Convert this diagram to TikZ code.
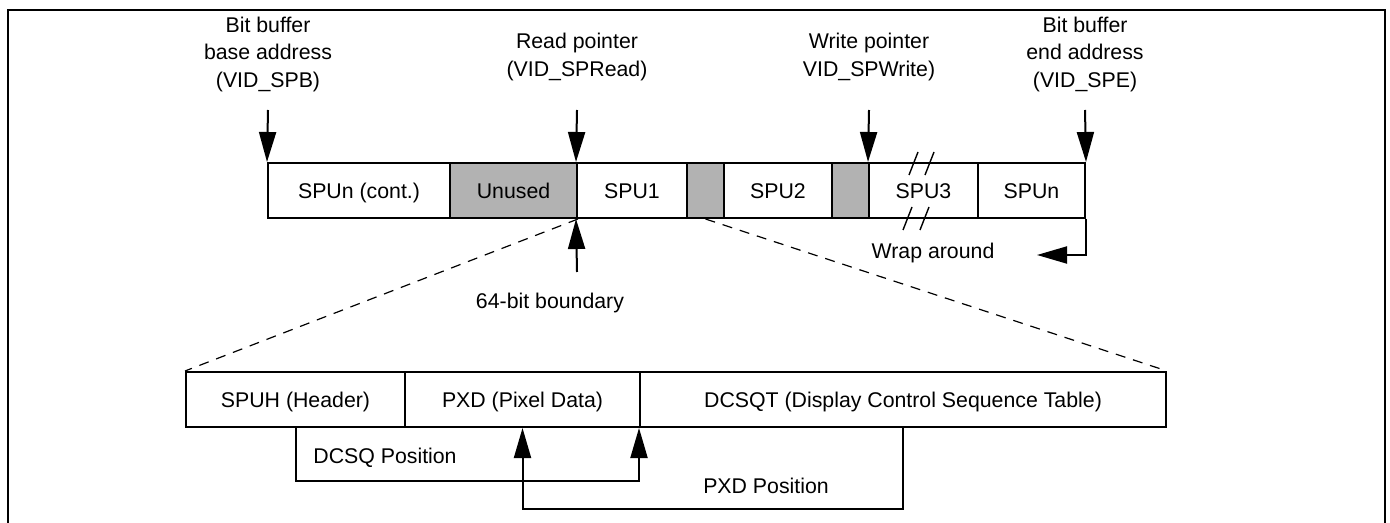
\documentclass[tikz,border=0pt]{standalone}
\usepackage{fontspec}
\setmainfont{Liberation Sans}
\usepackage{tkz-euclide}
\usetikzlibrary{arrows.meta,fit}

\begin{document}
\begin{tikzpicture}[x=.5pt,y=-.5pt,line width=1pt,
	every node/.style={font=\fontsize{10.65pt}{13.75pt}\selectfont},
	every label/.style={text height=7.6pt,text depth=0pt},
	cell/.style={draw,inner sep=0pt},
	gapcell/.style={cell,fill=gray!60},
	lbl/.style={align=center,inner sep=0pt},
	ptr/.style={-{Triangle[length=15pt,width=8.5pt]}},
	zoomline/.style={dash pattern=on 5pt off 4pt,line width=.6pt},
	brk/.style={line width=.7pt}]
	\useasboundingbox (0,0) rectangle (1390,523);
	\draw (8,523) |- (1385,10) -- (1385,523);
	% pointer feet
	\tkzDefPoints{268/110/Base,577/110/Read,869/110/Write,1085/110/End,577/272/Bound,1037/255/Wrap}
	% bit buffer
	\node[cell,fit={(268,163)(450,218)},label=center:{SPUn (cont.)}] (spucont) {};
	\node[gapcell,fit={(450,163)(577,218)},label=center:Unused] (unused) {};
	\node[cell,fit={(577,163)(687,218)},label=center:SPU1] (spu1) {};
	\node[gapcell,fit={(687,163)(724,218)}] (gapa) {};
	\node[cell,fit={(724,163)(832,218)},label=center:SPU2] (spu2) {};
	\node[gapcell,fit={(832,163)(869,218)}] (gapb) {};
	\node[cell,fit={(869,163)(978,218)},label=center:SPU3] (spu3) {};
	\node[cell,fit={(978,163)(1085,218)},label=center:SPUn] (spun) {};
	\draw[brk] (909,175) -- (918,152) (925,175) -- (934,152);
	\draw[brk] (903,230) -- (912,207) (920,230) -- (929,207);
	% pointers
	\node[lbl] (spb) at (268,54) {Bit buffer\\base address\\(VID\_SPB)};
	\node[lbl] (rdp) at (577,57) {Read pointer\\(VID\_SPRead)};
	\node[lbl] (wrp) at (869,57) {Write pointer\\VID\_SPWrite)};
	\node[lbl] (spe) at (1085,54) {Bit buffer\\end address\\(VID\_SPE)};
	\draw[ptr] (Base) -- (spucont.north west);
	\draw[ptr] (Read) -- (spu1.north west);
	\draw[ptr] (Write) -- (spu3.north west);
	\draw[ptr] (End) -- (spun.north east);
	\node[lbl] (bnd) at (550,303) {64-bit boundary};
	\draw[ptr] (Bound) -- (spu1.south west);
	\node[lbl] (wrap) at (933,253) {Wrap around};
	\draw[ptr] (spun.south east) |- (Wrap);
	% one SPU
	\node[cell,fit={(186,372)(405,427)},label=center:{SPUH (Header)}] (spuh) {};
	\node[cell,fit={(405,372)(640,427)},label=center:{PXD (Pixel Data)}] (pxd) {};
	\node[cell,fit={(640,372)(1166,427)},label=center:{DCSQT (Display Control Sequence Table)}] (dcsqt) {};
	\draw[zoomline] (unused.south east) -- (spuh.north west);
	\draw[zoomline] (gapa.south) -- (dcsqt.north east);
	\node[lbl] (dcsqpos) at (385,458) {DCSQ Position};
	\draw[ptr] (spuh.south) -- ++(0,53) -| (dcsqt.south west);
	\node[lbl] (pxdpos) at (766,486) {PXD Position};
	\draw[ptr] (dcsqt.south) -- ++(0,81) -| (pxd.south);
\end{tikzpicture}
\end{document}
